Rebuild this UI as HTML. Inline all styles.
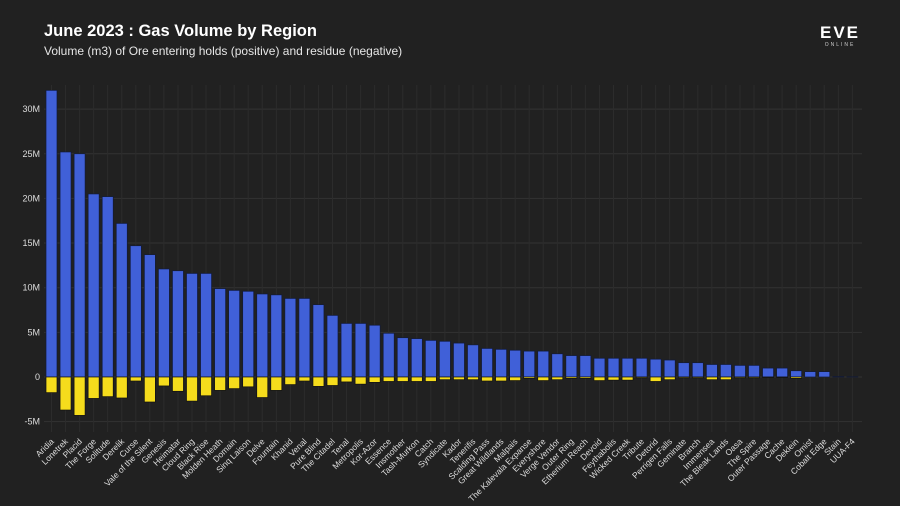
<!DOCTYPE html>
<html><head><meta charset="utf-8"><style>
html,body{margin:0;padding:0;background:#212121;}
svg{display:block;font-family:"Liberation Sans",sans-serif;}
</style></head><body>
<svg id="chart" width="900" height="506">
<rect width="900" height="506" fill="#212121"/>
<text x="44" y="36" fill="#fff" font-size="16.5" font-weight="bold">June 2023 : Gas Volume by Region</text>
<text x="44" y="55" fill="#e6e6e6" font-size="12">Volume (m3) of Ore entering holds (positive) and residue (negative)</text>
<g>
<text x="840" y="38" fill="#fff" font-size="17" font-weight="bold" text-anchor="middle" letter-spacing="2">EVE</text>
<text x="840" y="46" fill="#ccc" font-size="5" text-anchor="middle" letter-spacing="2">ONLINE</text>
</g>
<g id="grid"></g><g id="bars"></g><g id="labels"></g>
</svg>
<script>
const categories=["Aridia","Lonetrek","Placid","The Forge","Solitude","Derelik","Curse","Vale of the Silent","Genesis","Heimatar","Cloud Ring","Black Rise","Molden Heath","Domain","Sinq Laison","Delve","Fountain","Khanid","Venal","Pure Blind","The Citadel","Tenal","Metropolis","Kor-Azor","Essence","Insmother","Tash-Murkon","Catch","Syndicate","Kador","Tenerifis","Scalding Pass","Great Wildlands","Malpais","The Kalevala Expanse","Everyshore","Verge Vendor","Outer Ring","Etherium Reach","Devoid","Feythabolis","Wicked Creek","Tribute","Detorid","Perrigen Falls","Geminate","Branch","Immensea","The Bleak Lands","Oasa","The Spire","Outer Passage","Cache","Deklein","Omist","Cobalt Edge","Stain","UUA-F4"];
const positive=[32.1,25.2,25.0,20.5,20.2,17.2,14.7,13.7,12.1,11.9,11.6,11.6,9.9,9.7,9.6,9.3,9.2,8.8,8.8,8.1,6.9,6.0,6.0,5.8,4.9,4.4,4.3,4.1,4.0,3.8,3.6,3.2,3.1,3.0,2.9,2.9,2.6,2.4,2.4,2.1,2.1,2.1,2.1,2.0,1.9,1.6,1.6,1.4,1.4,1.3,1.3,1.0,1.0,0.7,0.6,0.6,0.05,0.02];
const negative=[-1.75,-3.7,-4.3,-2.4,-2.2,-2.35,-0.45,-2.8,-1.0,-1.6,-2.7,-2.1,-1.5,-1.3,-1.1,-2.3,-1.5,-0.85,-0.45,-1.05,-0.95,-0.55,-0.8,-0.6,-0.5,-0.5,-0.5,-0.5,-0.3,-0.3,-0.3,-0.45,-0.45,-0.4,-0.15,-0.4,-0.3,-0.15,-0.15,-0.4,-0.35,-0.35,-0.1,-0.5,-0.3,-0.1,-0.1,-0.3,-0.3,-0.1,-0.1,-0.05,-0.05,-0.15,0,0,0,0];
const yTicks=[-5,0,5,10,15,20,25,30];
const yTickLabels=["-5M","0","5M","10M","15M","20M","25M","30M"];
const NS="http://www.w3.org/2000/svg";
const x0=44.5,step=14.05,bw=11;
const yScale=v=>377-v*8.93;
const xCenter=i=>x0+step*i+7;
function mk(t,a,p){const e=document.createElementNS(NS,t);for(const k in a)e.setAttribute(k,a[k]);p.appendChild(e);return e;}
const grid=document.getElementById('grid'),bars=document.getElementById('bars'),labels=document.getElementById('labels');
yTicks.forEach((v,i)=>{
 const l=mk('line',{x1:44,x2:862,y1:yScale(v),y2:yScale(v),stroke:'#333',"stroke-width":1},grid);
 
 
 const t=mk('text',{x:40,y:yScale(v)+3,fill:'#ddd',"font-size":9,"text-anchor":"end"},grid);
 t.textContent=yTickLabels[i];
 
 
});
categories.forEach((c,i)=>{
 const cx=xCenter(i);
 const g=mk('line',{x1:cx,x2:cx,y1:85,y2:432,stroke:'#2c2c2c',"stroke-width":1},grid);
 
 
 const p=positive[i],n=negative[i];
 if(p>0){const r=mk('rect',{x:cx-bw/2,y:yScale(p),width:bw,height:yScale(0)-yScale(p),fill:'#4060d8',stroke:'#111a3a',"stroke-width":0.7},bars);
 
 }
 if(n<0){const r=mk('rect',{x:cx-bw/2,y:yScale(0),width:bw,height:yScale(n)-yScale(0),fill:'#f5dc1c',stroke:'#111',"stroke-width":0.7},bars);
 
 }
 const t=mk('text',{x:0,y:0,fill:'#ddd',"font-size":8.5,"text-anchor":"end",transform:`translate(${cx+3},${442}) rotate(-45)`},labels);
 t.textContent=c;
 
 
});
</script>
</body></html>
